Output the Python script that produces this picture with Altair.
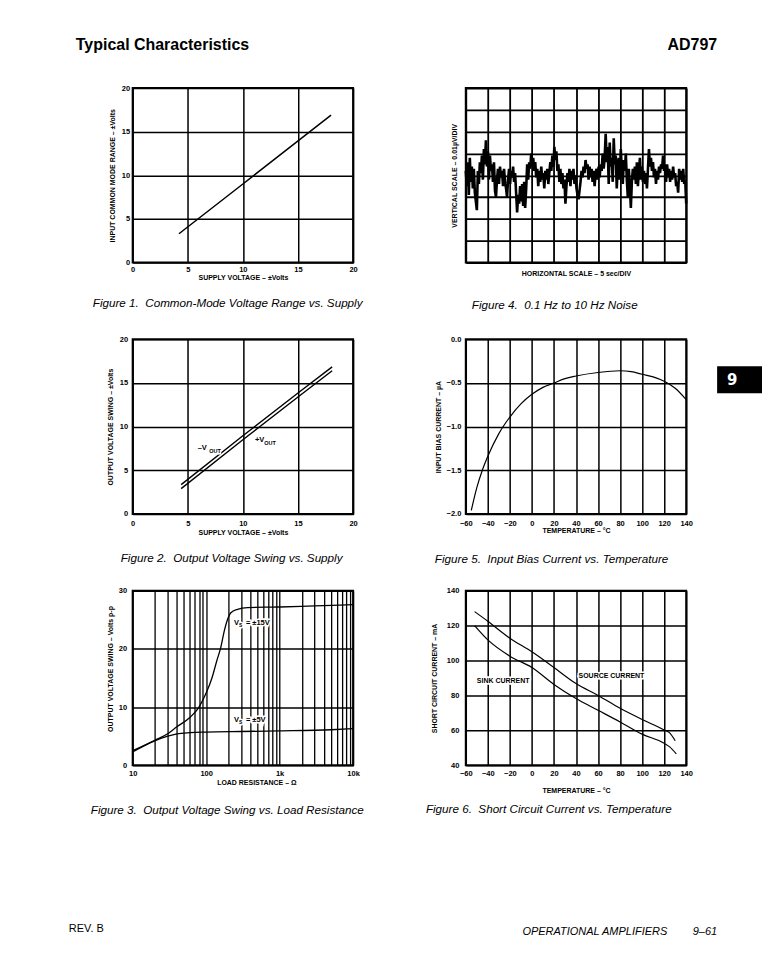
import altair as alt
import pandas as pd

FONT = "Liberation Sans, Arial, Helvetica, sans-serif"
HEAD = "Liberation Sans Narrow, Arial Narrow, Liberation Sans, Arial, sans-serif"

# ---------------- data ----------------
# Fig 1: common-mode range vs supply
F1_SUPPLY = [4.2, 10.0, 18.0]
F1_CMR = [3.3, 9.0, 16.9]

# Fig 2: output swing vs supply (two traces)
F2_SUPPLY = [4.4, 10.0, 15.0, 18.1]
F2_NEG = [3.35, 8.95, 13.85, 16.85]
F2_POS = [2.9, 8.5, 13.4, 16.4]

# Fig 3: output swing vs load resistance
F3_R15 = [10, 20, 30, 40, 60, 80, 100, 120, 140, 158, 176, 195, 217, 267, 366, 1000, 3000, 10000]
F3_V15 = [2.5, 4.3, 5.4, 6.6, 8.2, 10.0, 12.4, 15.0, 18.0, 20.2, 23.0, 25.0, 26.2, 26.8, 27.1, 27.2, 27.4, 27.6]
F3_R5 = [10, 20, 30, 40, 60, 100, 300, 1000, 5000, 10000]
F3_V5 = [2.3, 4.2, 5.0, 5.4, 5.6, 5.7, 5.8, 5.9, 6.1, 6.3]

# Fig 4: 0.1 Hz to 10 Hz noise (divisions)
NOISE = [
    0.2, -0.5, 0.6, -0.9, 0.8, -0.3, 0.4, -0.6, 0.3, -0.8,
    -1.2, -1.6, 0.2, -0.4, 0.6, 0.1, 0.9, -0.2, 1.2, 0.5,
    1.6, 0.4, 1.1, -0.2, 0.9, 0.2, 0.5, -0.3, 0.6, -0.7,
    -1.0, -0.2, 0.3, -0.4, 0.4, -0.1, 0.2, -0.5, 0.3, -0.3,
    -0.6, -1.0, -0.2, 0.3, -0.4, 0.2, -0.1, 0.4, -0.3, 0.1,
    -0.8, -1.7, -0.9, -1.3, -0.5, -1.2, -0.4, -1.4, -0.3, -1.5,
    -0.6, 0.5, -0.2, 0.6, 0.3, 1.0, 0.4, 0.8, 0.2, 0.6,
    -0.1, 0.3, -0.5, 0.2, -0.3, 0.4, -0.2, 0.1, -0.6, 0.2,
    -0.2, 0.3, -0.4, 0.1, 0.6, 0.2, 0.9, 0.4, 1.3, 0.7,
    1.1, 0.2, 0.5, -0.3, 0.3, -0.4, 0.1, -0.6, -0.2, -1.3,
    -0.5, 0.1, -0.3, 0.3, -0.5, 0.2, -0.2, 0.3, -0.4, 0.0,
    -0.6, -0.9, -1.1, -0.7, -0.3, 0.2, -0.1, 0.4, 0.1, 0.7,
    0.3, 0.5, -0.2, 0.4, -0.1, 0.3, -0.3, 0.2, -0.5, 0.1,
    0.3, -0.2, 0.4, -0.1, 0.5, 0.2, 1.0, 0.3, 0.8, 1.9,
    0.6, 1.3, -0.4, 1.5, 0.4, 0.8, -0.3, 1.7, 0.5, 0.9,
    -0.6, 0.4, 0.8, -0.2, 1.2, 0.3, -0.4, 0.7, 0.2, 1.0,
    -0.2, -1.0, 0.3, -0.5, -1.5, -0.3, 0.3, -0.2, 0.4, -0.4,
    0.6, -0.5, 0.2, 0.8, -0.2, 0.4, -0.3, 0.2, -0.4, 0.1,
    -0.6, 0.3, 1.2, 0.4, 0.8, 0.2, 0.6, -0.1, 0.3, -0.4,
    0.2, -0.2, 0.4, 0.1, 0.5, 0.3, 0.9, 0.2, 0.5, -0.3,
    0.5, -0.1, 0.3, -0.3, 0.2, -0.2, 0.4, -0.1, 0.1, -0.5,
    -0.3, -0.8, 0.3, -0.2, 0.2, -0.3, 0.3, -0.4, -0.2, -1.3,
]
NOISE_T = [i * 10.0 / (len(NOISE) - 1) for i in range(len(NOISE))]

# Fig 5: input bias current vs temperature
F5_TEMP = [-55, -50, -45, -40, -30, -20, -10, 0, 10, 20, 30, 40, 60, 80, 90, 100, 110, 120, 130, 140]
F5_IB = [-1.96, -1.70, -1.50, -1.34, -1.08, -0.89, -0.74, -0.63, -0.55, -0.50, -0.45, -0.42,
         -0.38, -0.36, -0.37, -0.40, -0.43, -0.48, -0.56, -0.69]

# Fig 6: short circuit current vs temperature
F6_TEMP_SRC = [-52, -40, -20, 0, 20, 40, 60, 80, 100, 120, 125, 130]
F6_SRC = [128, 122.5, 112.8, 105, 96, 86.8, 80, 72.6, 66.2, 60.2, 58.5, 54]
F6_TEMP_SNK = [-52, -40, -20, 0, 20, 40, 60, 80, 100, 120, 125, 131]
F6_SNK = [120, 111.8, 102.5, 96, 86.3, 78.2, 71.5, 64.8, 57.8, 52.6, 50.5, 46.5]

CAPTIONS = [
    "Figure 1.\u00a0 Common-Mode Voltage Range vs. Supply",
    "Figure 4.\u00a0 0.1 Hz to 10 Hz Noise",
    "Figure 2.\u00a0 Output Voltage Swing vs. Supply",
    "Figure 5.\u00a0 Input Bias Current vs. Temperature",
    "Figure 3.\u00a0 Output Voltage Swing vs. Load Resistance",
    "Figure 6.\u00a0 Short Circuit Current vs. Temperature",
]

W, H = 221, 175


def deco(txt, x, y, **kw):
    return alt.Chart(pd.DataFrame({"t": [txt]})).mark_text(**kw).encode(
        x=alt.value(x), y=alt.value(y), text="t:N")


def caption(txt, x, y):
    return deco(txt, x, y, font=FONT, fontSize=11.7, fontStyle="italic",
                align="left", baseline="alphabetic", color="black")


def lin_x(domain, values, title, lp, ty, tx=None):
    ax = dict(values=values, title=title, labelPadding=lp, titleY=ty, titleBaseline="middle")
    if tx is not None:
        ax["titleX"] = tx
    return alt.X("x:Q", scale=alt.Scale(domain=domain, nice=False, zero=False), axis=alt.Axis(**ax))


def lin_y(domain, values, title, lp, tx, ty=None, fmt=None):
    ax = dict(values=values, title=title, labelPadding=lp, titleX=tx, titleBaseline="middle")
    if ty is not None:
        ax["titleY"] = ty
    if fmt is not None:
        ax["format"] = fmt
    return alt.Y("y:Q", scale=alt.Scale(domain=domain, nice=False, zero=False), axis=alt.Axis(**ax))


def labels(specs, x, y):
    """Labels in data coordinates; white knock-out halos first, then the black text."""
    halos, texts = [], []
    for df, kw in specs:
        halos.append(alt.Chart(df).mark_text(font=FONT, fontWeight="bold", color="white", stroke="white",
                                             strokeWidth=3, align="left", baseline="middle", **kw).encode(
            x=x, y=y, text="t:N"))
        texts.append(alt.Chart(df).mark_text(font=FONT, fontWeight="bold", color="black",
                                             align="left", baseline="middle", **kw).encode(
            x=x, y=y, text="t:N"))
    return halos + texts


# ---------------- Fig 1 ----------------
x1 = lin_x([0, 20], [0, 5, 10, 15, 20], "SUPPLY VOLTAGE \u2013 \u00b1Volts", 3, 15)
y1 = lin_y([0, 20], [0, 5, 10, 15, 20], "INPUT COMMON MODE RANGE \u2013 \u00b1Volts", 3, -20)
line1 = alt.Chart(pd.DataFrame({"x": F1_SUPPLY, "y": F1_CMR})).mark_line(
    color="black", strokeWidth=1.5).encode(x=x1, y=y1)
anchor = alt.Chart(pd.DataFrame({"a": [0]})).mark_rect(opacity=0).encode(
    x=alt.value(-124), x2=alt.value(-123), y=alt.value(-78), y2=alt.value(-77))
hdr_l = deco("Typical Characteristics", -57, -38, font=HEAD, fontSize=16, fontWeight="bold",
             align="left", baseline="alphabetic", color="black")
hdr_r = deco("AD797", 586, -38, font=HEAD, fontSize=16, fontWeight="bold",
             align="right", baseline="alphabetic", color="black")
p1 = alt.layer(line1, anchor, hdr_l, hdr_r, caption(CAPTIONS[0], -40, 220)).properties(width=W, height=H)

# ---------------- Fig 4 ----------------
x4 = alt.X("x:Q", scale=alt.Scale(domain=[0, 10], nice=False, zero=False),
           axis=alt.Axis(values=list(range(0, 11)), labels=False, gridWidth=1.8,
                         title="HORIZONTAL SCALE \u2013 5 sec/DIV", titleY=11, titleBaseline="middle"))
y4 = alt.Y("y:Q", scale=alt.Scale(domain=[-4, 4], nice=False, zero=False),
           axis=alt.Axis(values=list(range(-4, 5)), labels=False, gridWidth=1.8,
                         title="VERTICAL SCALE \u2013 0.01\u00b5V/DIV", titleX=-11, titleBaseline="middle"))
line4 = alt.Chart(pd.DataFrame({"x": NOISE_T, "y": NOISE})).mark_line(
    color="black", strokeWidth=2.6, strokeJoin="miter").encode(x=x4, y=y4)
p4 = alt.layer(line4, caption(CAPTIONS[1], 6, 222)).properties(width=W, height=H)

# ---------------- Fig 2 ----------------
x2 = lin_x([0, 20], [0, 5, 10, 15, 20], "SUPPLY VOLTAGE \u2013 \u00b1Volts", 6, 19)
y2 = lin_y([0, 20], [0, 5, 10, 15, 20], "OUTPUT VOLTAGE SWING \u2013 \u00b1Volts", 5, -22)
df2 = pd.DataFrame({"x": F2_SUPPLY * 2, "y": F2_NEG + F2_POS,
                    "s": ["neg"] * len(F2_SUPPLY) + ["pos"] * len(F2_SUPPLY)})
line2 = alt.Chart(df2).mark_line(color="black", strokeWidth=1.4).encode(
    x=x2, y=y2, detail="s:N")
lab2 = labels([
    (pd.DataFrame({"x": [5.9], "y": [7.6], "t": ["\u2013V"]}), dict(fontSize=7.5)),
    (pd.DataFrame({"x": [6.95], "y": [7.25], "t": ["OUT"]}), dict(fontSize=5.5)),
    (pd.DataFrame({"x": [11.1], "y": [8.5], "t": ["+V"]}), dict(fontSize=7.5)),
    (pd.DataFrame({"x": [11.95], "y": [8.15], "t": ["OUT"]}), dict(fontSize=5.5)),
], x2, y2)
p2 = alt.layer(line2, *lab2, caption(CAPTIONS[2], -12, 223)).properties(width=W, height=H)

# ---------------- Fig 5 ----------------
x5 = lin_x([-60, 140], list(range(-60, 141, 20)), "TEMPERATURE \u2013 \u00b0C", 6, 17)
y5 = lin_y([-2, 0], [-2, -1.5, -1, -0.5, 0], "INPUT BIAS CURRENT \u2013 \u00b5A", 5, -27, fmt=".1f")
line5 = alt.Chart(pd.DataFrame({"x": F5_TEMP, "y": F5_IB})).mark_line(
    color="black", strokeWidth=1.2, interpolate="monotone").encode(x=x5, y=y5)
tab = alt.Chart(pd.DataFrame({"a": [0]})).mark_rect(color="black").encode(
    x=alt.value(252), x2=alt.value(297), y=alt.value(27), y2=alt.value(54))
tab9 = deco("9", 267, 41, font="DejaVu Sans", fontSize=15, fontWeight="bold",
            align="center", baseline="middle", color="white")
p5 = alt.layer(line5, tab, tab9, caption(CAPTIONS[3], -31, 224)).properties(width=W, height=H)

# ---------------- Fig 3 ----------------
LOG_TICKS = [10, 20, 30, 40, 50, 60, 70, 80, 90, 100, 200, 300, 400, 500, 600, 700, 800, 900,
             1000, 2000, 3000, 4000, 5000, 6000, 7000, 8000, 9000, 10000]
x3 = alt.X("x:Q", scale=alt.Scale(type="log", domain=[10, 10000], nice=False),
           axis=alt.Axis(values=LOG_TICKS, title="LOAD RESISTANCE \u2013 \u03a9", labelPadding=4,
                         titleY=17, titleX=124, titleBaseline="middle", gridWidth=1.3,
                         labelExpr="datum.value == 10 ? '10' : datum.value == 100 ? '100' : "
                                   "datum.value == 1000 ? '1k' : datum.value == 10000 ? '10k' : ''"))
y3 = lin_y([0, 30], [0, 10, 20, 30], "OUTPUT VOLTAGE SWING \u2013 Volts p-p", 6, -22, ty=78)
df3 = pd.DataFrame({"x": F3_R15 + F3_R5, "y": F3_V15 + F3_V5,
                    "s": ["15"] * len(F3_R15) + ["5"] * len(F3_R5)})
line3 = alt.Chart(df3).mark_line(color="black", strokeWidth=1.3, interpolate="monotone").encode(
    x=x3, y=y3, detail="s:N")
specs3 = []
for txt, yy in [("\u00b115V", 24.5), ("\u00b15V", 7.7)]:
    base = pd.DataFrame({"x": [239], "y": [yy]})
    specs3.append((base.assign(t="V"), dict(fontSize=7.5)))
    specs3.append((base.assign(t="S"), dict(fontSize=5, dx=5, dy=2)))
    specs3.append((base.assign(t="= " + txt), dict(fontSize=7.5, dx=12)))
lab3 = labels(specs3, x3, y3)
rev = deco("REV. B", -64, 342, font=FONT, fontSize=11, align="left", baseline="alphabetic", color="black")
p3 = alt.layer(line3, *lab3, rev, caption(CAPTIONS[4], -42, 224)).properties(width=W, height=H)

# ---------------- Fig 6 ----------------
x6 = lin_x([-60, 140], list(range(-60, 141, 20)), "TEMPERATURE \u2013 \u00b0C", 4, 25)
y6 = lin_y([40, 140], [40, 60, 80, 100, 120, 140], "SHORT CIRCUIT CURRENT \u2013 mA", 7, -31)
df6 = pd.DataFrame({"x": F6_TEMP_SRC + F6_TEMP_SNK, "y": F6_SRC + F6_SNK,
                    "s": ["src"] * len(F6_SRC) + ["snk"] * len(F6_SNK)})
line6 = alt.Chart(df6).mark_line(color="black", strokeWidth=1.2, interpolate="monotone").encode(
    x=x6, y=y6, detail="s:N")
lab6 = labels([(pd.DataFrame({"x": [42.3, -50], "y": [91.4, 88.0],
                               "t": ["SOURCE CURRENT", "SINK CURRENT"]}), dict(fontSize=7))], x6, y6)
foot1 = deco("OPERATIONAL AMPLIFIERS", 202, 345, font=FONT, fontSize=11, fontStyle="italic",
             align="right", baseline="alphabetic", color="black")
foot2 = deco("9\u201361", 252, 345, font=FONT, fontSize=11, fontStyle="italic",
             align="right", baseline="alphabetic", color="black")
p6 = alt.layer(line6, *lab6, foot1, foot2, caption(CAPTIONS[5], -40, 223)).properties(width=W, height=H)

chart = alt.concat(p1, p4, p2, p5, p3, p6, columns=2, bounds="flush",
                   spacing={"row": 77, "column": 113}).properties(
    padding=0, background="white"
).configure_view(
    stroke="black", strokeWidth=2
).configure_axis(
    grid=True, gridColor="black", gridWidth=1.5, gridOpacity=1,
    domain=False, ticks=False, labelFlush=False, labelOverlap=False,
    labelFont=FONT, labelFontSize=7.5, labelFontWeight="bold", labelColor="black",
    titleFont=FONT, titleFontSize=7, titleFontWeight="bold", titleColor="black",
)

chart.save("out.html", embed_options={"renderer": "svg", "actions": False})
